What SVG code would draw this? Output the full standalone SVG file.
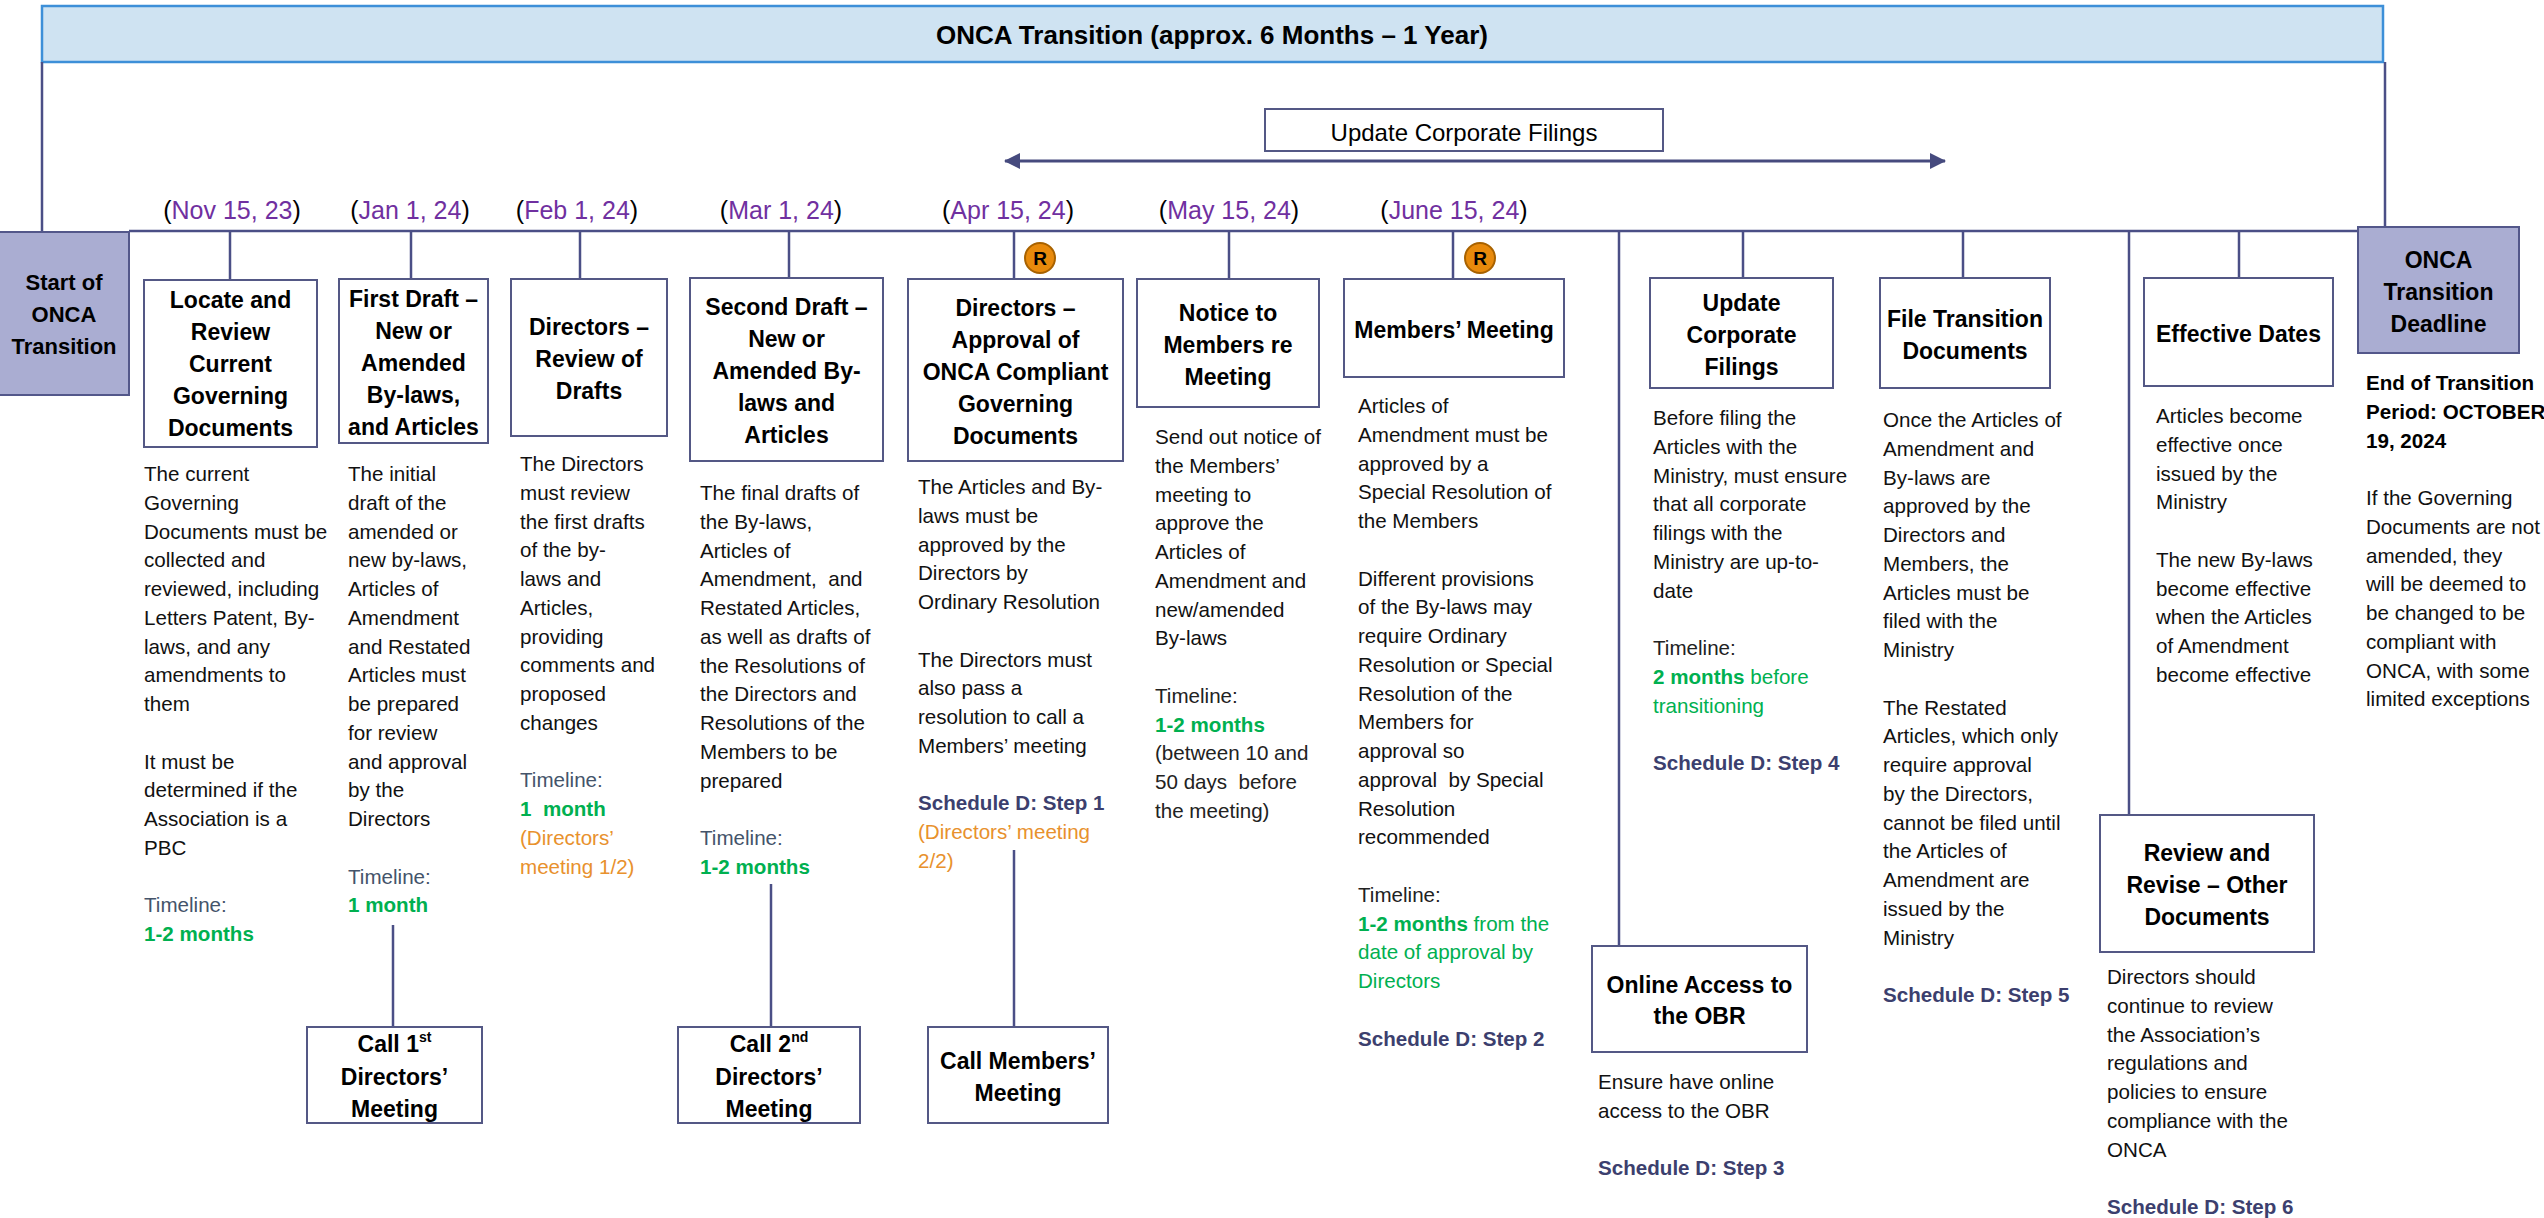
<svg xmlns="http://www.w3.org/2000/svg" width="2544" height="1218" viewBox="0 0 2544 1218">
<defs>
<style>
text{font-family:"Liberation Sans",Arial,sans-serif;}
.hdr{font-weight:bold;font-size:23px;text-anchor:middle;fill:#000;}
.hdr22{font-weight:bold;font-size:22px;text-anchor:middle;fill:#000;}
.body{font-size:20.6px;fill:#111;}
.date{font-size:25px;fill:#7030A0;text-anchor:middle;}
.par{fill:#000;}
.tl{fill:#44546A;}
.tlk{fill:#222;}
.grn{fill:#00B050;font-weight:bold;}
.grnr{fill:#00B050;}
.org{fill:#E8912D;}
.sch{fill:#3C3F6E;font-weight:bold;}
.box{fill:#fff;stroke:#545885;stroke-width:2;}
.lav{fill:#AAADD2;stroke:#53578A;stroke-width:2;}
.ln{stroke:#4B4F86;stroke-width:2.5;fill:none;}
.rc{fill:#E88A0C;stroke:#A86200;stroke-width:2;}
.rt{font-weight:bold;font-size:19px;text-anchor:middle;fill:#000;}
</style>
<marker id="ah" viewBox="0 0 16 16" refX="15" refY="8" markerWidth="16" markerHeight="16" markerUnits="userSpaceOnUse" orient="auto-start-reverse">
<path d="M0,0 L16,8 L0,16 Z" fill="#464A7E"/>
</marker>
</defs>
<rect width="2544" height="1218" fill="#fff"/>

<g id="banner">
<rect x="42" y="6" width="2341" height="56" fill="#CFE3F2" stroke="#3D8FD8" stroke-width="2.5"/>
<text x="1212" y="44" font-size="26" font-weight="bold" text-anchor="middle" fill="#000">ONCA Transition (approx. 6 Months – 1 Year)</text>
</g>

<g id="connectors">
<line class="ln" x1="42" y1="62" x2="42" y2="232"/>
<line class="ln" x1="2385" y1="62" x2="2385" y2="228"/>
<line class="ln" x1="129" y1="231" x2="2358" y2="231" stroke-width="3"/>
<line class="ln" x1="230" y1="231" x2="230" y2="280"/>
<line class="ln" x1="411" y1="231" x2="411" y2="279"/>
<line class="ln" x1="580" y1="231" x2="580" y2="279"/>
<line class="ln" x1="789" y1="231" x2="789" y2="278"/>
<line class="ln" x1="1014" y1="231" x2="1014" y2="279"/>
<line class="ln" x1="1229" y1="231" x2="1229" y2="279"/>
<line class="ln" x1="1453" y1="231" x2="1453" y2="279"/>
<line class="ln" x1="1619" y1="231" x2="1619" y2="946"/>
<line class="ln" x1="1743" y1="231" x2="1743" y2="278"/>
<line class="ln" x1="1963" y1="231" x2="1963" y2="278"/>
<line class="ln" x1="2129" y1="231" x2="2129" y2="815"/>
<line class="ln" x1="2239" y1="231" x2="2239" y2="278"/>
<line class="ln" x1="393" y1="925" x2="393" y2="1027"/>
<line class="ln" x1="771" y1="884" x2="771" y2="1027"/>
<line class="ln" x1="1014" y1="850" x2="1014" y2="1027"/>
<line x1="1005" y1="161" x2="1945" y2="161" stroke="#464A7E" stroke-width="3" marker-start="url(#ah)" marker-end="url(#ah)"/>
</g>

<g id="update-filings-span">
<rect class="box" x="1265" y="109" width="398" height="42"/>
<text x="1464" y="141" font-size="24" text-anchor="middle" fill="#000">Update Corporate Filings</text>
</g>

<g id="dates">
<text class="date" x="232" y="219"><tspan class="par">(</tspan>Nov 15, 23<tspan class="par">)</tspan></text>
<text class="date" x="410" y="219"><tspan class="par">(</tspan>Jan 1, 24<tspan class="par">)</tspan></text>
<text class="date" x="577" y="219"><tspan class="par">(</tspan>Feb 1, 24<tspan class="par">)</tspan></text>
<text class="date" x="781" y="219"><tspan class="par">(</tspan>Mar 1, 24<tspan class="par">)</tspan></text>
<text class="date" x="1008" y="219"><tspan class="par">(</tspan>Apr 15, 24<tspan class="par">)</tspan></text>
<text class="date" x="1229" y="219"><tspan class="par">(</tspan>May 15, 24<tspan class="par">)</tspan></text>
<text class="date" x="1454" y="219"><tspan class="par">(</tspan>June 15, 24<tspan class="par">)</tspan></text>
</g>

<g id="start">
<rect class="lav" x="-2" y="232" width="131" height="163"/>
<text class="hdr22" x="64" y="290">Start of</text>
<text class="hdr22" x="64" y="322">ONCA</text>
<text class="hdr22" x="64" y="354">Transition</text>
</g>

<g id="locate">
<rect class="box" x="144" y="280" width="173" height="167"/>
<text class="hdr" x="230.5" y="308">Locate and</text>
<text class="hdr" x="230.5" y="340">Review</text>
<text class="hdr" x="230.5" y="372">Current</text>
<text class="hdr" x="230.5" y="404">Governing</text>
<text class="hdr" x="230.5" y="436">Documents</text>
<text class="body" x="144" y="481">
<tspan x="144">The current</tspan>
<tspan x="144" dy="28.75">Governing</tspan>
<tspan x="144" dy="28.75">Documents must be</tspan>
<tspan x="144" dy="28.75">collected and</tspan>
<tspan x="144" dy="28.75">reviewed, including</tspan>
<tspan x="144" dy="28.75">Letters Patent, By-</tspan>
<tspan x="144" dy="28.75">laws, and any</tspan>
<tspan x="144" dy="28.75">amendments to</tspan>
<tspan x="144" dy="28.75">them</tspan>
<tspan x="144" dy="57.5">It must be</tspan>
<tspan x="144" dy="28.75">determined if the</tspan>
<tspan x="144" dy="28.75">Association is a</tspan>
<tspan x="144" dy="28.75">PBC</tspan>
<tspan x="144" dy="57.5" class="tl">Timeline:</tspan>
<tspan x="144" dy="28.75" class="grn">1-2 months</tspan>
</text>
</g>

<g id="first-draft">
<rect class="box" x="339" y="279" width="149" height="164"/>
<text class="hdr" x="413.5" y="307">First Draft –</text>
<text class="hdr" x="413.5" y="339">New or</text>
<text class="hdr" x="413.5" y="371">Amended</text>
<text class="hdr" x="413.5" y="403">By-laws,</text>
<text class="hdr" x="413.5" y="435">and Articles</text>
<text class="body" x="348" y="481">
<tspan x="348">The initial</tspan>
<tspan x="348" dy="28.75">draft of the</tspan>
<tspan x="348" dy="28.75">amended or</tspan>
<tspan x="348" dy="28.75">new by-laws,</tspan>
<tspan x="348" dy="28.75">Articles of</tspan>
<tspan x="348" dy="28.75">Amendment</tspan>
<tspan x="348" dy="28.75">and Restated</tspan>
<tspan x="348" dy="28.75">Articles must</tspan>
<tspan x="348" dy="28.75">be prepared</tspan>
<tspan x="348" dy="28.75">for review</tspan>
<tspan x="348" dy="28.75">and approval</tspan>
<tspan x="348" dy="28.75">by the</tspan>
<tspan x="348" dy="28.75">Directors</tspan>
<tspan x="348" dy="57.5" class="tl">Timeline:</tspan>
<tspan x="348" dy="28.75" class="grn">1 month</tspan>
</text>
</g>

<g id="directors-review">
<rect class="box" x="511" y="279" width="156" height="157"/>
<text class="hdr" x="589" y="335">Directors –</text>
<text class="hdr" x="589" y="367">Review of</text>
<text class="hdr" x="589" y="399">Drafts</text>
<text class="body" x="520" y="471" xml:space="preserve"><tspan x="520">The Directors</tspan><tspan x="520" dy="28.75">must review</tspan><tspan x="520" dy="28.75">the first drafts</tspan><tspan x="520" dy="28.75">of the by-</tspan><tspan x="520" dy="28.75">laws and</tspan><tspan x="520" dy="28.75">Articles,</tspan><tspan x="520" dy="28.75">providing</tspan><tspan x="520" dy="28.75">comments and</tspan><tspan x="520" dy="28.75">proposed</tspan><tspan x="520" dy="28.75">changes</tspan><tspan x="520" dy="57.5" class="tl">Timeline:</tspan><tspan x="520" dy="28.75" class="grn">1  month</tspan><tspan x="520" dy="28.75" class="org">(Directors’</tspan><tspan x="520" dy="28.75" class="org">meeting 1/2)</tspan></text>
</g>

<g id="second-draft">
<rect class="box" x="690" y="278" width="193" height="183"/>
<text class="hdr" x="786.5" y="315">Second Draft –</text>
<text class="hdr" x="786.5" y="347">New or</text>
<text class="hdr" x="786.5" y="379">Amended By-</text>
<text class="hdr" x="786.5" y="411">laws and</text>
<text class="hdr" x="786.5" y="443">Articles</text>
<text class="body" x="700" y="500" xml:space="preserve"><tspan x="700">The final drafts of</tspan><tspan x="700" dy="28.75">the By-laws,</tspan><tspan x="700" dy="28.75">Articles of</tspan><tspan x="700" dy="28.75">Amendment,  and</tspan><tspan x="700" dy="28.75">Restated Articles,</tspan><tspan x="700" dy="28.75">as well as drafts of</tspan><tspan x="700" dy="28.75">the Resolutions of</tspan><tspan x="700" dy="28.75">the Directors and</tspan><tspan x="700" dy="28.75">Resolutions of the</tspan><tspan x="700" dy="28.75">Members to be</tspan><tspan x="700" dy="28.75">prepared</tspan><tspan x="700" dy="57.5" class="tl">Timeline:</tspan><tspan x="700" dy="28.75" class="grn">1-2 months</tspan></text>
</g>

<g id="directors-approval">
<rect class="box" x="908" y="279" width="215" height="182"/>
<circle class="rc" cx="1040" cy="258" r="15"/>
<text class="rt" x="1040" y="265">R</text>
<text class="hdr" x="1015.5" y="316">Directors –</text>
<text class="hdr" x="1015.5" y="348">Approval of</text>
<text class="hdr" x="1015.5" y="380">ONCA Compliant</text>
<text class="hdr" x="1015.5" y="412">Governing</text>
<text class="hdr" x="1015.5" y="444">Documents</text>
<text class="body" x="918" y="494">
<tspan x="918">The Articles and By-</tspan>
<tspan x="918" dy="28.75">laws must be</tspan>
<tspan x="918" dy="28.75">approved by the</tspan>
<tspan x="918" dy="28.75">Directors by</tspan>
<tspan x="918" dy="28.75">Ordinary Resolution</tspan>
<tspan x="918" dy="57.5">The Directors must</tspan>
<tspan x="918" dy="28.75">also pass a</tspan>
<tspan x="918" dy="28.75">resolution to call a</tspan>
<tspan x="918" dy="28.75">Members’ meeting</tspan>
<tspan x="918" dy="57.5" class="sch">Schedule D: Step 1</tspan>
<tspan x="918" dy="28.75" class="org">(Directors’ meeting</tspan>
<tspan x="918" dy="28.75" class="org">2/2)</tspan>
</text>
</g>

<g id="notice">
<rect class="box" x="1137" y="279" width="182" height="128"/>
<text class="hdr" x="1228" y="321">Notice to</text>
<text class="hdr" x="1228" y="353">Members re</text>
<text class="hdr" x="1228" y="385">Meeting</text>
<text class="body" x="1155" y="444" xml:space="preserve"><tspan x="1155">Send out notice of</tspan><tspan x="1155" dy="28.75">the Members’</tspan><tspan x="1155" dy="28.75">meeting to</tspan><tspan x="1155" dy="28.75">approve the</tspan><tspan x="1155" dy="28.75">Articles of</tspan><tspan x="1155" dy="28.75">Amendment and</tspan><tspan x="1155" dy="28.75">new/amended</tspan><tspan x="1155" dy="28.75">By-laws</tspan><tspan x="1155" dy="57.5" class="tlk">Timeline:</tspan><tspan x="1155" dy="28.75" class="grn">1-2 months</tspan><tspan x="1155" dy="28.75" class="tlk">(between 10 and</tspan><tspan x="1155" dy="28.75" class="tlk">50 days  before</tspan><tspan x="1155" dy="28.75" class="tlk">the meeting)</tspan></text>
</g>

<g id="members-meeting">
<rect class="box" x="1344" y="279" width="220" height="98"/>
<circle class="rc" cx="1480" cy="258" r="15"/>
<text class="rt" x="1480" y="265">R</text>
<text class="hdr" x="1454" y="338">Members’ Meeting</text>
<text class="body" x="1358" y="413" xml:space="preserve"><tspan x="1358">Articles of</tspan><tspan x="1358" dy="28.75">Amendment must be</tspan><tspan x="1358" dy="28.75">approved by a</tspan><tspan x="1358" dy="28.75">Special Resolution of</tspan><tspan x="1358" dy="28.75">the Members</tspan><tspan x="1358" dy="57.5">Different provisions</tspan><tspan x="1358" dy="28.75">of the By-laws may</tspan><tspan x="1358" dy="28.75">require Ordinary</tspan><tspan x="1358" dy="28.75">Resolution or Special</tspan><tspan x="1358" dy="28.75">Resolution of the</tspan><tspan x="1358" dy="28.75">Members for</tspan><tspan x="1358" dy="28.75">approval so</tspan><tspan x="1358" dy="28.75">approval  by Special</tspan><tspan x="1358" dy="28.75">Resolution</tspan><tspan x="1358" dy="28.75">recommended</tspan><tspan x="1358" dy="57.5" class="tlk">Timeline:</tspan><tspan x="1358" dy="28.75" class="grn">1-2 months</tspan><tspan class="grnr"> from the</tspan><tspan x="1358" dy="28.75" class="grnr">date of approval by</tspan><tspan x="1358" dy="28.75" class="grnr">Directors</tspan><tspan x="1358" dy="57.5" class="sch">Schedule D: Step 2</tspan></text>
</g>

<g id="update-filings">
<rect class="box" x="1650" y="278" width="183" height="110"/>
<text class="hdr" x="1741.5" y="311">Update</text>
<text class="hdr" x="1741.5" y="343">Corporate</text>
<text class="hdr" x="1741.5" y="375">Filings</text>
<text class="body" x="1653" y="425">
<tspan x="1653">Before filing the</tspan>
<tspan x="1653" dy="28.75">Articles with the</tspan>
<tspan x="1653" dy="28.75">Ministry, must ensure</tspan>
<tspan x="1653" dy="28.75">that all corporate</tspan>
<tspan x="1653" dy="28.75">filings with the</tspan>
<tspan x="1653" dy="28.75">Ministry are up-to-</tspan>
<tspan x="1653" dy="28.75">date</tspan>
<tspan x="1653" dy="57.5" class="tlk">Timeline:</tspan>
<tspan x="1653" dy="28.75" class="grn">2 months</tspan><tspan class="grnr"> before</tspan>
<tspan x="1653" dy="28.75" class="grnr">transitioning</tspan>
<tspan x="1653" dy="57.5" class="sch">Schedule D: Step 4</tspan>
</text>
</g>

<g id="online-access">
<rect class="box" x="1592" y="946" width="215" height="106"/>
<text class="hdr" x="1699.5" y="993">Online Access to</text>
<text class="hdr" x="1699.5" y="1024">the OBR</text>
<text class="body" x="1598" y="1089">
<tspan x="1598">Ensure have online</tspan>
<tspan x="1598" dy="28.75">access to the OBR</tspan>
<tspan x="1598" dy="57.5" class="sch">Schedule D: Step 3</tspan>
</text>
</g>

<g id="file-transition">
<rect class="box" x="1880" y="278" width="170" height="110"/>
<text class="hdr" x="1965" y="327">File Transition</text>
<text class="hdr" x="1965" y="359">Documents</text>
<text class="body" x="1883" y="427">
<tspan x="1883">Once the Articles of</tspan>
<tspan x="1883" dy="28.75">Amendment and</tspan>
<tspan x="1883" dy="28.75">By-laws are</tspan>
<tspan x="1883" dy="28.75">approved by the</tspan>
<tspan x="1883" dy="28.75">Directors and</tspan>
<tspan x="1883" dy="28.75">Members, the</tspan>
<tspan x="1883" dy="28.75">Articles must be</tspan>
<tspan x="1883" dy="28.75">filed with the</tspan>
<tspan x="1883" dy="28.75">Ministry</tspan>
<tspan x="1883" dy="57.5">The Restated</tspan>
<tspan x="1883" dy="28.75">Articles, which only</tspan>
<tspan x="1883" dy="28.75">require approval</tspan>
<tspan x="1883" dy="28.75">by the Directors,</tspan>
<tspan x="1883" dy="28.75">cannot be filed until</tspan>
<tspan x="1883" dy="28.75">the Articles of</tspan>
<tspan x="1883" dy="28.75">Amendment are</tspan>
<tspan x="1883" dy="28.75">issued by the</tspan>
<tspan x="1883" dy="28.75">Ministry</tspan>
<tspan x="1883" dy="57.5" class="sch">Schedule D: Step 5</tspan>
</text>
</g>

<g id="review-revise">
<rect class="box" x="2100" y="815" width="214" height="137"/>
<text class="hdr" x="2207" y="861">Review and</text>
<text class="hdr" x="2207" y="893">Revise – Other</text>
<text class="hdr" x="2207" y="925">Documents</text>
<text class="body" x="2107" y="984">
<tspan x="2107">Directors should</tspan>
<tspan x="2107" dy="28.75">continue to review</tspan>
<tspan x="2107" dy="28.75">the Association’s</tspan>
<tspan x="2107" dy="28.75">regulations and</tspan>
<tspan x="2107" dy="28.75">policies to ensure</tspan>
<tspan x="2107" dy="28.75">compliance with the</tspan>
<tspan x="2107" dy="28.75">ONCA</tspan>
<tspan x="2107" dy="57.5" class="sch">Schedule D: Step 6</tspan>
</text>
</g>

<g id="effective-dates">
<rect class="box" x="2144" y="278" width="189" height="108"/>
<text class="hdr" x="2238.5" y="342">Effective Dates</text>
<text class="body" x="2156" y="423">
<tspan x="2156">Articles become</tspan>
<tspan x="2156" dy="28.75">effective once</tspan>
<tspan x="2156" dy="28.75">issued by the</tspan>
<tspan x="2156" dy="28.75">Ministry</tspan>
<tspan x="2156" dy="57.5">The new By-laws</tspan>
<tspan x="2156" dy="28.75">become effective</tspan>
<tspan x="2156" dy="28.75">when the Articles</tspan>
<tspan x="2156" dy="28.75">of Amendment</tspan>
<tspan x="2156" dy="28.75">become effective</tspan>
</text>
</g>

<g id="deadline">
<rect class="lav" x="2358" y="227" width="161" height="126"/>
<text class="hdr" x="2438.5" y="268">ONCA</text>
<text class="hdr" x="2438.5" y="300">Transition</text>
<text class="hdr" x="2438.5" y="332">Deadline</text>
<text class="body" x="2366" y="390" font-size="20">
<tspan x="2366" font-weight="bold" fill="#000">End of Transition</tspan>
<tspan x="2366" dy="28.75" font-weight="bold" fill="#000">Period: OCTOBER</tspan>
<tspan x="2366" dy="28.75" font-weight="bold" fill="#000">19, 2024</tspan>
<tspan x="2366" dy="57.5">If the Governing</tspan>
<tspan x="2366" dy="28.75">Documents are not</tspan>
<tspan x="2366" dy="28.75">amended, they</tspan>
<tspan x="2366" dy="28.75">will be deemed to</tspan>
<tspan x="2366" dy="28.75">be changed to be</tspan>
<tspan x="2366" dy="28.75">compliant with</tspan>
<tspan x="2366" dy="28.75">ONCA, with some</tspan>
<tspan x="2366" dy="28.75">limited exceptions</tspan>
</text>
</g>

<g id="call-1st">
<rect class="box" x="307" y="1027" width="175" height="96"/>
<text class="hdr" x="394.5" y="1052">Call 1<tspan font-size="14" dy="-10">st</tspan></text>
<text class="hdr" x="394.5" y="1085">Directors’</text>
<text class="hdr" x="394.5" y="1117">Meeting</text>
</g>

<g id="call-2nd">
<rect class="box" x="678" y="1027" width="182" height="96"/>
<text class="hdr" x="769" y="1052">Call 2<tspan font-size="14" dy="-10">nd</tspan></text>
<text class="hdr" x="769" y="1085">Directors’</text>
<text class="hdr" x="769" y="1117">Meeting</text>
</g>

<g id="call-members">
<rect class="box" x="928" y="1027" width="180" height="96"/>
<text class="hdr" x="1018" y="1069">Call Members’</text>
<text class="hdr" x="1018" y="1101">Meeting</text>
</g>
</svg>
